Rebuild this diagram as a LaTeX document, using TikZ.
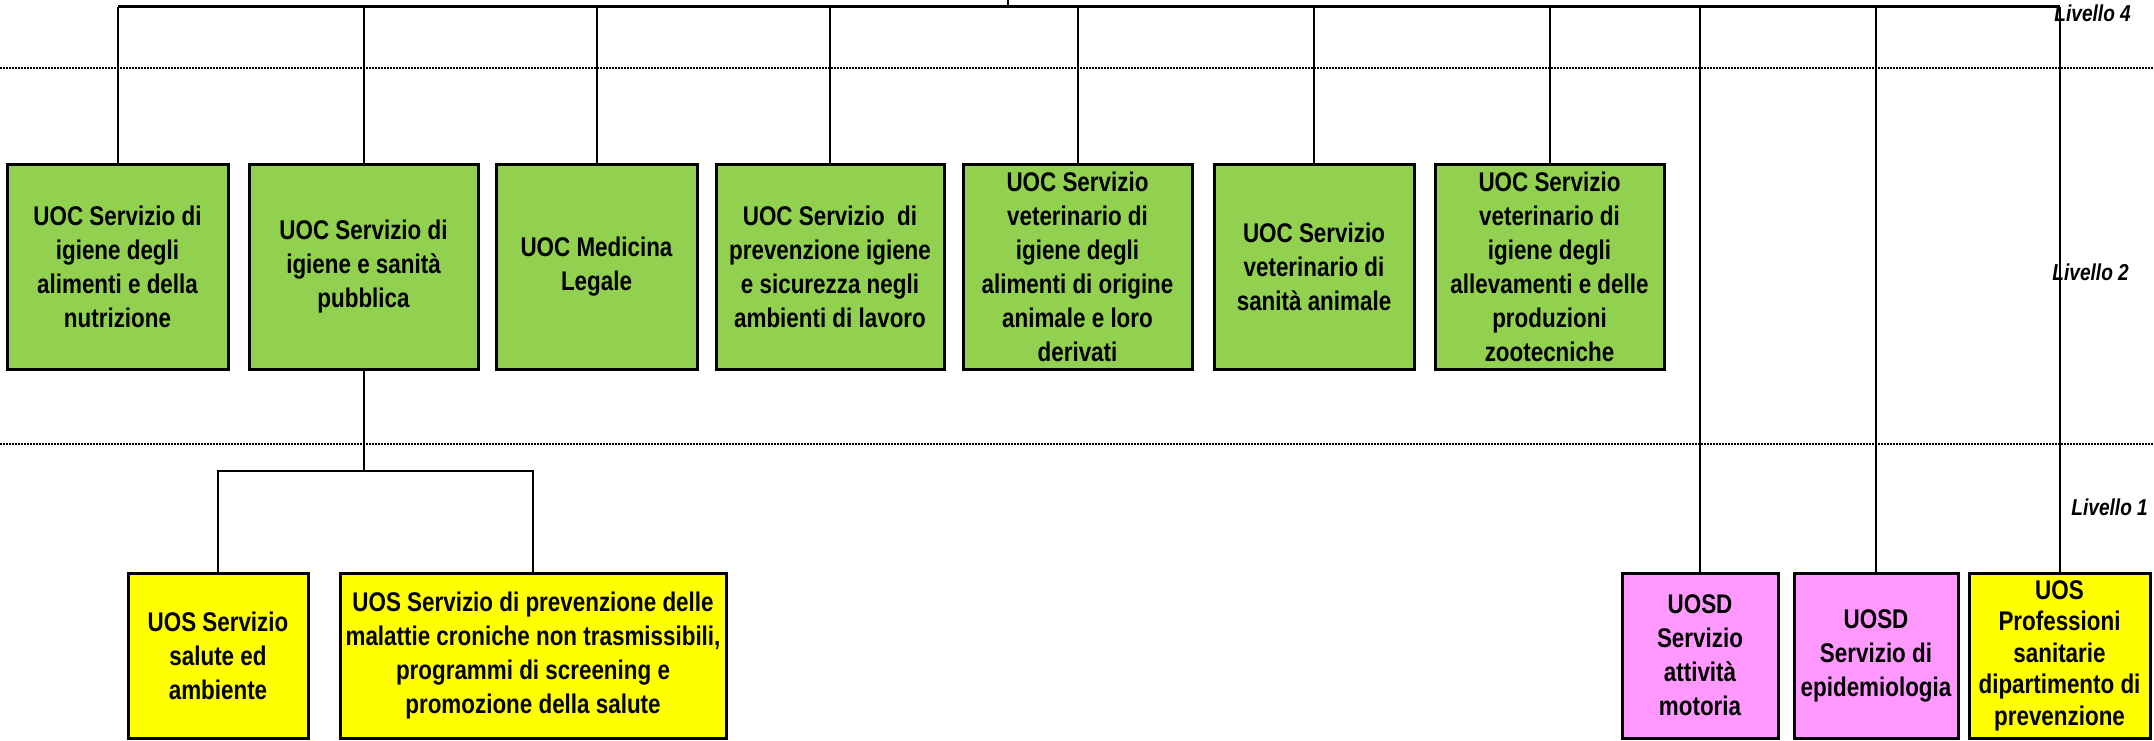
\documentclass[tikz,border=0pt]{standalone}
\usepackage{fontspec}
\setmainfont{Liberation Sans}[FakeStretch=0.83]
\usetikzlibrary{calc}
\definecolor{uocgreen}{RGB}{146,208,80}
\definecolor{uosyellow}{RGB}{255,255,0}
\definecolor{uosdpink}{RGB}{255,153,255}
\tikzset{
  unitbox/.style={draw=black, line width=3pt, inner sep=0pt, align=center,
    font=\bfseries\fontsize{27}{34}\selectfont},
  uoc/.style={unitbox, fill=uocgreen, minimum height=205},
  uos/.style={unitbox, fill=uosyellow, minimum height=165},
  uosd/.style={unitbox, fill=uosdpink, minimum height=165},
  link/.style={line width=2pt},
  levelline/.style={line width=2pt, dash pattern=on 1.5pt off 1.5pt},
  levellabel/.style={anchor=east, inner sep=0pt, font=\bfseries\itshape\fontsize{23}{26}\selectfont}
}
% style, name, x, y, width, text
\newcommand\orgbox[6]{%
  \node[#1, minimum width=#5] (#2) at (#3, #4) {#6}
}

\begin{document}
\begin{tikzpicture}[x=1pt, y=-1pt]
        \useasboundingbox (0,0) rectangle (2154,741);
        % Level separators
        \draw[levelline] (0,68) -- (2154,68);
        \draw[levelline] (0,444) -- (2154,444);

        % The UOC boxes
        \orgbox{uoc}{uoc1}{117.5}{266.5}{221}{UOC Servizio di\\igiene degli\\alimenti e della\\nutrizione};
        \orgbox{uoc}{uoc2}{363.5}{266.5}{229}{UOC Servizio di\\igiene e sanità\\pubblica};
        \orgbox{uoc}{uoc3}{596.5}{266.5}{201}{UOC Medicina\\Legale};
        \orgbox{uoc}{uoc4}{830}{266.5}{228}{UOC Servizio \ di\\prevenzione igiene\\e sicurezza negli\\ambienti di lavoro};
        \orgbox{uoc}{uoc5}{1077.5}{266.5}{229}{UOC Servizio\\veterinario di\\igiene degli\\alimenti di origine\\animale e loro\\derivati};
        \orgbox{uoc}{uoc6}{1314}{266.5}{200}{UOC Servizio\\veterinario di\\sanità animale};
        \orgbox{uoc}{uoc7}{1549.5}{266.5}{229}{UOC Servizio\\veterinario di\\igiene degli\\allevamenti e delle\\produzioni\\zootecniche};

        % The UOS and UOSD boxes
        \orgbox{uos}{uos1}{218}{655.5}{180}{UOS Servizio\\salute ed\\ambiente};
        \orgbox{uos}{uos2}{533}{655.5}{386}{UOS Servizio di prevenzione delle\\malattie croniche non trasmissibili,\\programmi di screening e\\promozione della salute};
        \orgbox{uosd}{uosd1}{1700}{655.5}{156}{UOSD\\Servizio\\attività\\motoria};
        \orgbox{uosd}{uosd2}{1876}{655.5}{164}{UOSD\\Servizio di\\epidemiologia};
        \orgbox{uos, font=\bfseries\fontsize{27}{31.5}\selectfont}{uosp}{2059.5}{655.5}{181}{UOS\\Professioni\\sanitarie\\dipartimento di\\prevenzione};

        % Connectors
        \coordinate (bus) at (0,7);
        \coordinate (top) at (1008,0);
        \coordinate (split) at (363.5,471);
        \draw[link, line width=3pt] (uoc1.north |- bus) -- (uosp.north |- bus);
        \draw[link] (top) -- (top |- bus);
        \foreach \n in {uoc1,uoc2,uoc3,uoc4,uoc5,uoc6,uoc7,uosd1,uosd2,uosp}
          \draw[link] (\n.north) -- (\n.north |- bus);
        \draw[link] (uoc2.south) -- (split);
        \draw[link] (uos1.north) |- (split) -| (uos2.north);

        % Level labels
        \node[levellabel] (liv4) at (2131,13) {Livello 4};
        \node[levellabel] (liv2) at (2129,272) {Livello 2};
        \node[levellabel] (liv1) at (2148,507) {Livello 1};
    \end{tikzpicture}
\end{document}
